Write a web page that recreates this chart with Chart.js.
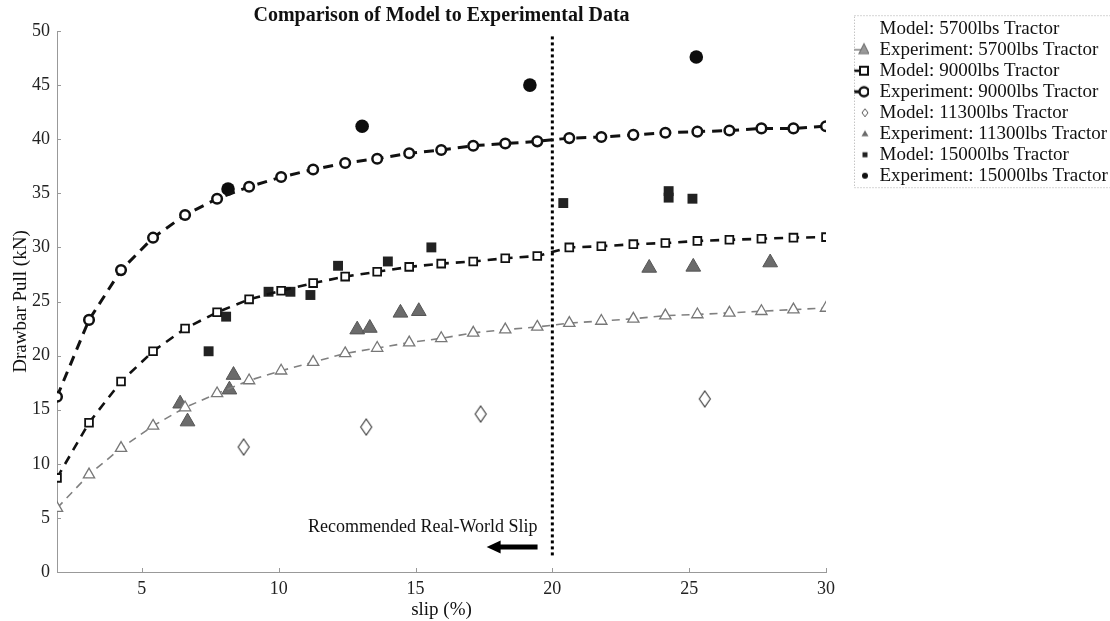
<!DOCTYPE html>
<html>
<head>
<meta charset="utf-8">
<script src="https://cdn.jsdelivr.net/npm/chart.js@4/dist/chart.umd.min.js"></script>
<style>
  html, body { margin: 0; padding: 0; background: #fff; }
</style>
</head>
<body>
<canvas id="chart" width="1110" height="621"></canvas>
<script>
// slip values (%) where the model curves are evaluated
const slip = [1.9, 3.07, 4.24, 5.41, 6.58, 7.75, 8.92, 10.09, 11.26, 12.43, 13.6, 14.77, 15.94,
  17.11, 18.28, 19.45, 20.62, 21.79, 22.96, 24.13, 25.3, 26.47, 27.64, 28.81, 30];

// dashed curves (labels as in the original legend)
const exp5700 = [5.9, 9.0, 11.45, 13.5, 15.2, 16.5, 17.7, 18.6, 19.4, 20.2, 20.7, 21.2, 21.6,
  22.1, 22.4, 22.65, 23.0, 23.2, 23.4, 23.7, 23.8, 23.95, 24.1, 24.25, 24.4];
const model9000 = [8.7, 13.8, 17.6, 20.4, 22.5, 24.0, 25.2, 26.0, 26.7, 27.3, 27.75, 28.2, 28.5,
  28.7, 29.0, 29.2, 30.0, 30.1, 30.3, 30.4, 30.6, 30.7, 30.8, 30.9, 30.95];
const exp9000 = [16.2, 23.3, 27.9, 30.9, 33.0, 34.5, 35.6, 36.5, 37.2, 37.8, 38.2, 38.7, 39.0,
  39.4, 39.6, 39.8, 40.1, 40.2, 40.4, 40.6, 40.7, 40.8, 41.0, 41.0, 41.2];

// scattered points
const model11300X = [8.72, 13.2, 17.38, 25.57];
const model11300Y = [11.55, 13.4, 14.6, 16.0];
const exp11300X = [6.40, 6.67, 8.20, 8.35, 12.87, 13.33, 14.45, 15.12, 23.54, 25.15, 27.96];
const exp11300Y = [15.55, 13.9, 16.85, 18.2, 22.4, 22.55, 23.95, 24.1, 28.1, 28.2, 28.6];
const model15000X = [7.44, 8.08, 9.63, 10.43, 11.16, 12.17, 13.99, 15.58, 20.40, 24.25, 24.25, 25.12];
const model15000Y = [20.4, 23.6, 25.9, 25.9, 25.6, 28.3, 28.7, 30.0, 34.1, 35.2, 34.6, 34.5];
const exp15000X = [8.15, 13.05, 19.18, 25.26];
const exp15000Y = [35.4, 41.2, 45.0, 47.6];

const xTicks = [5, 10, 15, 20, 25, 30];
const yTicks = [0, 5, 10, 15, 20, 25, 30, 35, 40, 45, 50];

const legendLabels = [
  'Model: 5700lbs Tractor', 'Experiment: 5700lbs Tractor',
  'Model: 9000lbs Tractor', 'Experiment: 9000lbs Tractor',
  'Model: 11300lbs Tractor', 'Experiment: 11300lbs Tractor',
  'Model: 15000lbs Tractor', 'Experiment: 15000lbs Tractor'
];

// annotation: recommended slip limit
const limitSlip = 20;
const noteText = 'Recommended Real-World Slip';

const SERIF = "'Liberation Serif', 'Times New Roman', serif";
const GRAY = '#808080';
const DARKGRAY = '#6b6b6b';
const LEGEND_W = 284;

const pts = (xs, ys) => xs.map((x, i) => ({ x: x, y: ys[i] }));

// tall open diamond marker
function diamondImg() {
  const c = document.createElement('canvas');
  c.width = 14; c.height = 18;
  const g = c.getContext('2d');
  g.fillStyle = '#fff';
  g.strokeStyle = '#444';
  g.lineWidth = 1.2;
  g.beginPath();
  g.moveTo(7, 1); g.lineTo(12.5, 9); g.lineTo(7, 17); g.lineTo(1.5, 9);
  g.closePath(); g.fill(); g.stroke();
  return c;
}

// legend symbols (drawn in the right part of a 40px wide box)
function icon(kind) {
  const c = document.createElement('canvas');
  c.width = 40; c.height = 16;
  const g = c.getContext('2d');
  const line = (col, w) => {
    g.strokeStyle = col; g.lineWidth = w;
    g.beginPath(); g.moveTo(25, 8); g.lineTo(34, 8); g.stroke();
  };
  if (kind === 'tri') {
    line(GRAY, 1.5);
    g.fillStyle = '#999'; g.strokeStyle = '#777'; g.lineWidth = 1.2;
    g.beginPath(); g.moveTo(35, 2); g.lineTo(40, 12); g.lineTo(30, 12); g.closePath(); g.fill(); g.stroke();
  } else if (kind === 'sq') {
    line('#111', 2.5);
    g.fillStyle = '#fff'; g.strokeStyle = '#111'; g.lineWidth = 2;
    g.fillRect(31, 4, 8, 8); g.strokeRect(31, 4, 8, 8);
  } else if (kind === 'circ') {
    line('#111', 3);
    g.fillStyle = '#fff'; g.strokeStyle = '#111'; g.lineWidth = 2.5;
    g.beginPath(); g.arc(35, 8, 4.5, 0, Math.PI * 2); g.fill(); g.stroke();
  } else if (kind === 'dia') {
    g.strokeStyle = '#555'; g.lineWidth = 1;
    g.beginPath(); g.moveTo(36, 4); g.lineTo(39, 8); g.lineTo(36, 12); g.lineTo(33, 8); g.closePath(); g.stroke();
  } else if (kind === 'triS') {
    g.fillStyle = DARKGRAY;
    g.beginPath(); g.moveTo(36, 4.5); g.lineTo(39.5, 10.5); g.lineTo(32.5, 10.5); g.closePath(); g.fill();
  } else if (kind === 'sqS') {
    g.fillStyle = '#222'; g.fillRect(33.5, 5.5, 5, 5);
  } else if (kind === 'circS') {
    g.fillStyle = '#111'; g.beginPath(); g.arc(36, 8, 3, 0, Math.PI * 2); g.fill();
  }
  return c;
}
const legendIcons = ['none', 'tri', 'sq', 'circ', 'dia', 'triS', 'sqS', 'circS'].map(icon);

const extras = {
  id: 'extras',
  beforeLayout(chart) {
    // fixed legend width so the plot area ends where the original does
    const lg = chart.legend;
    if (lg && !lg.__fixedWidth) {
      const fit = lg.fit;
      lg.fit = function () { fit.call(this); this.width = LEGEND_W; };
      lg.__fixedWidth = true;
    }
  },
  beforeDatasetsDraw(chart) {
    const { ctx, scales: { x, y } } = chart;
    const px = x.getPixelForValue(limitSlip);
    ctx.save();
    ctx.strokeStyle = '#000';
    ctx.lineWidth = 3;
    ctx.setLineDash([3, 3]);
    ctx.beginPath();
    ctx.moveTo(px, y.getPixelForValue(49.5));
    ctx.lineTo(px, y.getPixelForValue(1.3));
    ctx.stroke();
    ctx.restore();
  },
  afterDraw(chart) {
    const { ctx, scales: { x, y }, chartArea } = chart;
    ctx.save();
    // small inward tick marks
    ctx.strokeStyle = '#999';
    ctx.lineWidth = 1;
    xTicks.forEach(v => {
      const p = Math.round(x.getPixelForValue(v)) + 0.5;
      ctx.beginPath(); ctx.moveTo(p, chartArea.bottom); ctx.lineTo(p, chartArea.bottom - 4); ctx.stroke();
    });
    yTicks.forEach(v => {
      const p = Math.round(y.getPixelForValue(v)) + 0.5;
      ctx.beginPath(); ctx.moveTo(chartArea.left, p); ctx.lineTo(chartArea.left + 4, p); ctx.stroke();
    });

    // note + arrow
    ctx.fillStyle = '#111';
    ctx.font = '18px ' + SERIF;
    ctx.textAlign = 'right';
    ctx.textBaseline = 'middle';
    ctx.fillText(noteText, x.getPixelForValue(19.46), y.getPixelForValue(4.1));
    const ay = y.getPixelForValue(2.3);
    const tail = x.getPixelForValue(19.46);
    const tip = x.getPixelForValue(17.6);
    ctx.strokeStyle = '#000';
    ctx.lineWidth = 5;
    ctx.beginPath(); ctx.moveTo(tail, ay); ctx.lineTo(tip + 10, ay); ctx.stroke();
    ctx.fillStyle = '#000';
    ctx.beginPath(); ctx.moveTo(tip, ay); ctx.lineTo(tip + 14, ay - 6.5); ctx.lineTo(tip + 14, ay + 6.5); ctx.closePath(); ctx.fill();

    // dotted legend frame
    const boxes = chart.legend.legendHitBoxes;
    if (boxes && boxes.length) {
      const first = boxes[0], last = boxes[boxes.length - 1];
      const left = first.left + 26;
      const top = first.top - 4;
      const bottom = last.top + last.height + 2;
      ctx.strokeStyle = '#aaa';
      ctx.lineWidth = 1;
      ctx.setLineDash([1, 2]);
      ctx.strokeRect(left + 0.5, top + 0.5, chart.width, bottom - top);
    }
    ctx.restore();
  }
};

new Chart(document.getElementById('chart'), {
  type: 'scatter',
  data: {
    datasets: [
      {
        label: legendLabels[0], data: [], pointRadius: 0, borderWidth: 0
      },
      {
        label: legendLabels[1], data: pts(slip, exp5700), showLine: true,
        borderColor: GRAY, borderWidth: 1.6, borderDash: [8, 6],
        pointStyle: 'triangle', pointRadius: 6.5, pointBorderWidth: 1.3,
        pointBorderColor: '#777', pointBackgroundColor: '#fff'
      },
      {
        label: legendLabels[2], data: pts(slip, model9000), showLine: true,
        borderColor: '#111', borderWidth: 2.6, borderDash: [9, 7],
        pointStyle: 'rect', pointRadius: 5.5, pointBorderWidth: 1.8,
        pointBorderColor: '#111', pointBackgroundColor: '#fff'
      },
      {
        label: legendLabels[3], data: pts(slip, exp9000), showLine: true,
        borderColor: '#111', borderWidth: 3, borderDash: [10, 7],
        pointStyle: 'circle', pointRadius: 4.8, pointBorderWidth: 2.5,
        pointBorderColor: '#111', pointBackgroundColor: '#fff'
      },
      {
        label: legendLabels[4], data: pts(model11300X, model11300Y),
        pointStyle: diamondImg(), pointRadius: 7
      },
      {
        label: legendLabels[5], data: pts(exp11300X, exp11300Y),
        pointStyle: 'triangle', pointRadius: 8.5, pointBorderWidth: 1,
        pointBorderColor: '#555', pointBackgroundColor: DARKGRAY
      },
      {
        label: legendLabels[6], data: pts(model15000X, model15000Y),
        pointStyle: 'rect', pointRadius: 7, pointBorderWidth: 0,
        pointBackgroundColor: '#222'
      },
      {
        label: legendLabels[7], data: pts(exp15000X, exp15000Y),
        pointStyle: 'circle', pointRadius: 6.8, pointBorderWidth: 0,
        pointBackgroundColor: '#0d0d0d'
      }
    ]
  },
  options: {
    responsive: false,
    animation: false,
    devicePixelRatio: 1,
    layout: { padding: 0 },
    plugins: {
      tooltip: { enabled: false },
      title: {
        display: true,
        text: 'Comparison of Model to Experimental Data',
        color: '#111',
        fullSize: false,
        font: { family: SERIF, size: 20, weight: 'bold' },
        padding: { top: 4, bottom: 3 }
      },
      legend: {
        position: 'right',
        align: 'start',
        title: { display: true, text: ' ', font: { size: 1 }, padding: { top: 16, bottom: 0 } },
        labels: {
          color: '#111',
          font: { family: SERIF, size: 19 },
          padding: 2,
          usePointStyle: true,
          pointStyleWidth: 42,
          generateLabels(chart) {
            const items = Chart.defaults.plugins.legend.labels.generateLabels(chart);
            items.forEach((it, i) => { it.pointStyle = legendIcons[i]; it.text = legendLabels[i]; });
            return items;
          }
        }
      }
    },
    scales: {
      x: {
        type: 'linear',
        min: 1.9,
        max: 30,
        afterBuildTicks: s => { s.ticks = xTicks.map(v => ({ value: v })); },
        afterFit: s => { s.height = 49; },
        ticks: { color: '#222', font: { family: SERIF, size: 18 }, padding: 6, maxRotation: 0, autoSkip: false },
        grid: { display: false, drawTicks: false },
        border: { display: true, color: '#999', width: 1, dash: [2, 2] },
        title: {
          display: true, text: 'slip (%)', color: '#111',
          font: { family: SERIF, size: 19 }, padding: { top: 0, bottom: 0 }
        }
      },
      y: {
        type: 'linear',
        min: 0,
        max: 50,
        afterBuildTicks: s => { s.ticks = yTicks.map(v => ({ value: v })); },
        afterFit: s => { s.width = 57; },
        ticks: { color: '#222', font: { family: SERIF, size: 18 }, padding: 7 },
        grid: { display: false, drawTicks: false },
        border: { display: true, color: '#999', width: 1, dash: [2, 2] },
        title: {
          display: true, text: 'Drawbar Pull (kN)', color: '#111',
          font: { family: SERIF, size: 19 }, padding: { top: 10, bottom: 0 }
        }
      }
    }
  },
  plugins: [extras]
});
</script>
</body>
</html>
